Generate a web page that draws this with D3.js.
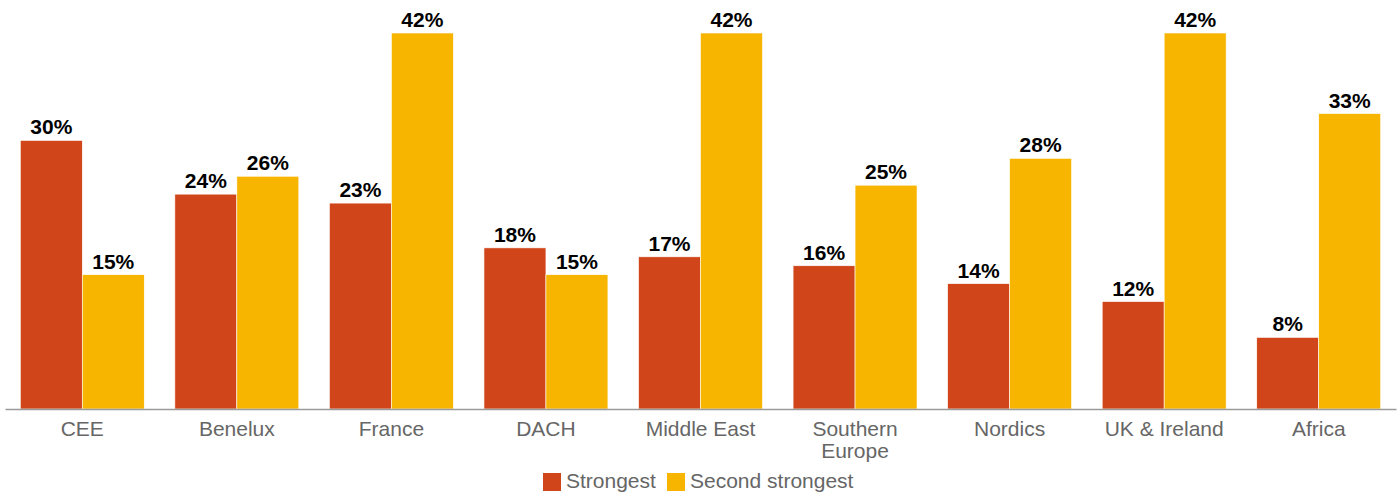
<!DOCTYPE html>
<html><head><meta charset="utf-8">
<script src="https://cdn.jsdelivr.net/npm/d3@7"></script>
<style>body{margin:0;background:#fff;} svg{display:block;}</style>
</head><body>
<svg id="c" width="1399" height="498"></svg>
<script>
const categories = ["CEE","Benelux","France","DACH","Middle East","Southern Europe","Nordics","UK & Ireland","Africa"];
const strongest = [30,24,23,18,17,16,14,12,8];
const secondStrongest = [15,26,42,15,42,25,28,42,33];
const seriesNames = ["Strongest","Second strongest"];
const colors = ["#D04519","#F7B500"];

const svg = d3.select("#c");
const font = "'Liberation Sans', Arial, Helvetica, sans-serif";
const x0 = d3.scaleBand().domain(categories).range([5,1396]).paddingInner(0.198).paddingOuter(0.099);
const x1 = d3.scaleBand().domain([0,1]).range([0,x0.bandwidth()]);
const y = d3.scaleLinear().domain([0,42]).range([409,33]);

const data = categories.map((c,i)=>({c, v:[strongest[i], secondStrongest[i]]}));
const g = svg.selectAll("g.grp").data(data).join("g").attr("class","grp")
  .attr("transform",d=>`translate(${x0(d.c)},0)`);
g.selectAll("rect").data(d=>d.v.map((v,k)=>({v,k}))).join("rect")
  .attr("x",d=>x1(d.k)).attr("width",x1.bandwidth())
  .attr("y",d=>y(d.v)).attr("height",d=>y(0)-y(d.v))
  .attr("fill",d=>colors[d.k]).attr("stroke","#fff").attr("stroke-width",0.6);
g.selectAll("text.val").data(d=>d.v.map((v,k)=>({v,k}))).join("text").attr("class","val")
  .attr("x",d=>x1(d.k)+x1.bandwidth()/2).attr("y",d=>y(d.v)-6)
  .attr("text-anchor","middle").attr("font-family",font).attr("font-weight","bold")
  .attr("font-size",21).attr("fill","#000").text(d=>d.v+"%");

// axis
const ax = svg.append("g").attr("transform","translate(0,409)")
  .call(d3.axisBottom(x0).tickSize(0).tickFormat(""));
ax.select(".domain").attr("stroke","#9a9a9a").attr("stroke-width",1.5);
ax.selectAll(".tick text").remove();
const labelLines = {"Southern Europe":["Southern","Europe"]};
categories.forEach(c=>{
  const lines = labelLines[c] || [c];
  lines.forEach((l,i)=>svg.append("text").attr("text-anchor","middle").attr("font-family",font)
    .attr("font-size",21).attr("fill","#666")
    .attr("x",x0(c)+x0.bandwidth()/2).attr("y",436+i*22).text(l));
});

// legend
const leg = svg.append("g");
const items = [{x:543},{x:667}];
seriesNames.forEach((n,i)=>{
  leg.append("rect").attr("x",items[i].x).attr("y",473).attr("width",18).attr("height",18).attr("fill",colors[i]);
  leg.append("text").attr("x",items[i].x+23).attr("y",488).attr("font-family",font)
    .attr("font-size",21).attr("fill","#666").text(n);
});
</script>
</body></html>
